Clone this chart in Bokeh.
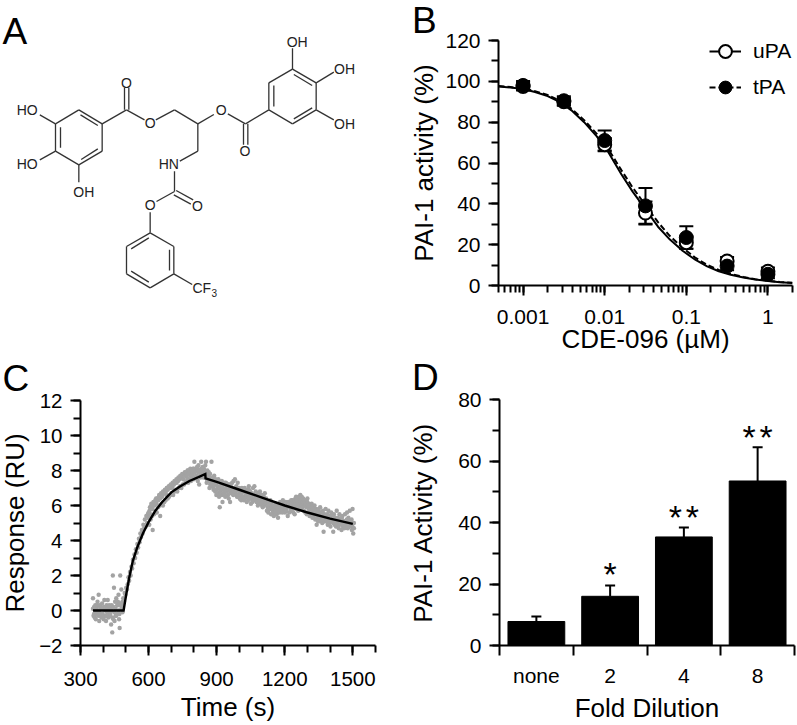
import numpy as np
from bokeh.core.properties import value
from bokeh.embed import file_html
from bokeh.models import (CustomJSTickFormatter, FixedTicker, Legend, Title,
                          LegendItem, LogTicker, Range1d, SingleIntervalTicker)
from bokeh.plotting import figure
from bokeh.resources import INLINE

FONT = "Liberation Sans"

# ---------- panel A: structure (drawing units, 3 per page pixel) ----------
bond_x0 = [235, 305, 305, 235, 165, 165, 240, 292, 180, 165, 165, 235, 305, 372, 385, 378, 466, 522, 592, 682, 729, 742, 735,
           805, 805, 876, 947, 947, 876, 820, 880, 880, 876, 947, 947, 592, 592, 522, 527, 520, 522, 449,
           449, 520, 520, 449, 378, 378, 507, 392, 392, 520]
bond_y0 = [328, 370, 452, 493, 452, 370, 343, 445, 380, 370, 452, 493, 370, 328, 328, 328, 358, 328, 370, 340, 370, 370, 370,
           328, 247, 206, 247, 328, 370, 255, 222, 355, 206, 247, 328, 370, 452, 512, 570, 583, 573, 635,
           697, 738, 820, 862, 820, 738, 748, 812, 745, 820]
bond_x1 = [305, 305, 235, 165, 165, 235, 292, 242, 180, 118, 118, 235, 378, 372, 385, 432, 522, 592, 640, 735, 729, 742, 805,
           805, 876, 947, 947, 876, 805, 820, 935, 935, 876, 1000, 1000, 592, 538, 522, 578, 571, 468, 449,
           520, 520, 449, 378, 378, 449, 507, 445, 445, 575]
bond_y1 = [370, 452, 493, 452, 370, 328, 375, 477, 442, 343, 478, 545, 328, 262, 262, 358, 328, 370, 342, 370, 433, 433, 328,
           247, 206, 247, 328, 370, 328, 318, 255, 322, 143, 215, 358, 452, 482, 573, 598, 611, 603, 697,
           738, 820, 862, 820, 738, 697, 810, 845, 712, 852]
atom_text = ["HO", "HO", "OH", "O", "O", "O", "O", "OH", "OH", "OH", "HN", "O", "O", "CF"]
atom_x = [80, 80, 250, 378, 449, 662, 733, 890, 1032, 1032, 505, 591, 449, 604]
atom_y = [329, 491, 575, 246, 368, 328, 452, 124, 206, 370, 491, 615, 613, 862]
sub_text = ["3"]
sub_x = [641]
sub_y = [876]

# ---------- panel B ----------
conc = [0.001, 0.00316, 0.01, 0.0316, 0.1, 0.316, 1]
upa_mean = [97.5, 90, 69, 35.5, 21, 12, 7]
upa_err = [2, 2, 3.2, 5.6, 3, 2, 1.8]
tpa_mean = [98, 90.5, 71, 39, 23.5, 9.5, 5.5]
tpa_err = [2.2, 2.2, 4.9, 8.8, 5.5, 2, 2]
curve_x = [0.0005, 0.0007, 0.001, 0.0014, 0.002, 0.0028, 0.004, 0.0056, 0.008, 0.011, 0.016, 0.022, 0.032,
           0.045, 0.063, 0.09, 0.13, 0.18, 0.25, 0.35, 0.5, 0.7, 1, 1.4, 2]
upa_curve = [97.5, 97, 96.2, 94.8, 92.8, 89.9, 85.5, 80, 73, 65.5, 54.5, 46, 37,
             28.8, 22.5, 17, 12.5, 9.4, 7, 5.3, 3.9, 2.9, 2.2, 1.6, 1.2]
tpa_curve = [97.7, 97.2, 96.5, 95.2, 93.3, 90.5, 86.3, 81, 74.3, 67, 56.5, 48, 39,
             31, 24.2, 18.5, 13.5, 10.1, 7.6, 5.7, 4.2, 3.1, 2.3, 1.7, 1.3]
series_names = ["uPA", "tPA"]

# ---------- panel C ----------
baseline_resp = [0.7, -0.3, 0.2, -0.4, 0.3, -0.5, 0.1, -0.2, 0.5, -0.1, 0.9, -0.6, 0.3, -0.3, 0.2, -0.4, 0.4, -0.2,
                 0.1, -0.5, 0.6, -0.3, 0.2, -0.6, 0.3, -0.1, 0.6, -0.4, 0.2, -0.3, -0.2, 0.1, -0.8, 0.3, -1.25, 2.0,
                 -0.5, 1.3, -0.6, 0.5, -0.3, 0.7, -0.2, 0.3, 0.5, 0.9, -0.5, -1.0, 2.0, 0.3, 1.2, 0.2, 0.5]
rise_resp = [0.3, 0.7, 0.5, 1.0, 0.9, 1.3, 1.2, 1.5, 1.9, 1.7, 2.2, 2.0, 2.5, 2.4, 2.9, 2.7, 3.2, 3.0, 3.5, 3.3, 3.8,
             3.6, 4.1, 3.9, 4.4, 4.2, 4.6, 4.4, 4.9, 4.7, 5.2, 4.8, 5.4, 5.0, 5.5, 5.3]
approach_resp = [5.6, 4.9, 5.9, 5.2, 6.1, 5.4, 4.6, 6.0, 5.5, 6.2, 5.7, 6.4, 5.6, 6.3, 5.9, 6.5, 6.0, 5.4, 6.5, 6.1,
                 6.6, 6.0, 6.7, 6.2, 6.8, 6.3, 6.6, 7.0, 6.4, 7.0, 6.5, 7.1, 6.6, 7.1, 6.7, 7.0, 6.6, 7.2, 6.8, 7.3,
                 6.9, 7.3, 6.8, 7.4, 7.0, 7.5, 7.1, 7.6, 7.0, 7.6, 7.2, 7.8, 7.2, 7.9, 7.3, 7.7, 7.4, 8.0, 7.3, 7.9,
                 7.5, 8.1, 7.4, 8.0, 7.6, 8.1, 7.5, 8.5, 7.6, 8.1, 7.7, 8.2, 7.4, 8.3, 7.2, 8.0, 7.6, 8.5, 7.8, 8.2,
                 7.6, 8.1, 7.8, 8.3]
decay1_resp = [7.7, 8.5, 7.3, 8.0, 7.5, 7.9, 7.0, 7.8, 7.4, 8.5, 7.3, 7.6, 6.9, 7.7, 7.2, 7.5, 6.6, 7.4, 7.0, 7.5, 6.5,
               5.9, 7.3, 6.9, 7.4, 6.2, 7.2, 6.7, 7.3, 6.5, 7.3, 6.9, 7.2, 6.6]
decay2_resp = [7.2, 6.4, 6.9, 6.2, 7.2, 6.7, 7.3, 6.8, 7.4, 6.9, 7.5, 6.7, 7.1, 6.5, 7.3, 6.6, 7.0, 6.4, 6.9, 6.3, 7.0,
               6.5, 6.9, 6.3, 7.0, 6.5, 6.8, 6.2, 6.9, 6.3, 7.1, 6.4, 6.8, 6.1, 6.7, 6.2, 7.0, 6.4, 7.1, 6.3, 6.8, 6.2,
               6.6, 6.0, 6.7, 6.1, 6.8, 6.2, 6.5, 6.0]
decay3_resp = [6.6, 5.9, 6.5, 6.0, 6.7, 6.1, 6.3, 5.7, 6.2, 5.6, 6.1, 5.8, 6.3, 5.5, 6.0, 5.5, 5.9, 5.4, 6.0, 5.6, 6.1,
               5.5, 5.8, 5.3, 5.9, 5.6, 6.2, 5.7, 6.1, 5.6, 6.3, 5.8, 6.1, 5.6, 6.2, 5.7, 6.0, 5.4, 6.1, 5.6, 6.2, 5.8,
               6.3, 5.7, 6.2, 5.6, 6.0, 5.5, 6.4, 5.8]
decay4_resp = [6.5, 5.8, 6.3, 5.7, 6.5, 5.9, 6.6, 5.8, 6.5, 5.9, 6.4, 5.7, 6.3, 5.6, 6.2, 5.5, 6.4, 5.6, 6.1, 5.4, 6.0,
               5.5, 6.1, 5.3, 5.9, 5.4, 6.0, 5.2, 5.8, 4.9, 5.7, 5.1, 5.6]
decay5_resp = [5.8, 5.1, 5.9, 5.3, 5.6, 5.0, 5.7, 4.5, 5.5, 5.1, 5.8, 5.2, 5.5, 4.9, 5.7, 5.0, 5.4, 4.8, 5.6, 5.1, 5.3,
               4.5, 5.5, 4.9, 5.3, 4.8, 5.7, 5.0, 5.2, 4.7, 5.5, 5.0, 5.2, 4.6, 5.4, 4.8, 5.1, 4.7, 5.5, 5.0, 4.9, 5.6,
               4.7, 5.3, 4.8, 5.7, 4.9, 5.1, 4.6, 5.8, 4.4, 5.0]
# denser mid-band readings of the same trace
mid_baseline = [0.1, -0.2, 0.2, -0.1, 0.3, -0.3, 0.0, 0.2, -0.2, 0.1, -0.4, 0.2, 0.0, -0.3, 0.1, -0.1, 0.3, -0.2, 0.0,
                -0.4, 0.2, -0.1, 0.1, -0.3, 0.3, 0.0, -0.2, 0.4, 0.1, -0.1]
mid_approach = [5.3, 5.7, 5.5, 6.0, 5.8, 6.2, 6.0, 6.3, 6.1, 6.4, 6.3, 6.6, 6.4, 6.7, 6.5, 6.8, 6.7, 6.9, 6.8, 7.0, 6.9,
                7.1, 7.0, 7.2, 7.1, 7.3, 7.2, 7.4, 7.3, 7.5, 7.4, 7.6, 7.5, 7.7, 7.6, 7.8, 7.5, 7.8, 7.7, 7.9, 7.6, 8.0,
                7.8, 7.9, 7.7, 8.0, 7.8, 8.1, 7.9, 8.0, 7.7, 8.1, 7.9, 8.0, 7.8, 8.1, 7.9, 7.7, 8.0, 7.8]
mid_decay_a = [7.6, 7.9, 7.5, 7.7, 7.4, 7.6, 7.2, 7.5, 7.1, 7.4, 7.0, 7.3, 6.8, 7.2, 6.9, 7.1, 6.7, 7.0, 6.8, 7.1, 6.6,
               7.0, 6.7, 6.9, 6.6, 7.0, 6.8, 7.1, 6.9, 7.2, 6.8, 7.1, 6.7, 7.0, 6.6, 6.9, 6.8, 7.0, 6.6, 6.9, 6.5, 6.8,
               6.4, 6.7, 6.6, 6.9, 6.5, 6.8, 6.4, 6.7, 6.5, 6.8, 6.6, 6.9, 6.5, 6.7, 6.4, 6.6, 6.3, 6.6, 6.5, 6.7, 6.4,
               6.6, 6.2, 6.5, 6.3, 6.6, 6.4, 6.2]
mid_decay_b = [6.4, 6.2, 6.5, 6.3, 6.1, 6.4, 6.2, 5.9, 6.2, 6.0, 5.8, 6.1, 5.9, 5.7, 6.0, 5.8, 5.6, 5.9, 5.7, 5.8, 6.0,
               5.7, 5.9, 5.8, 6.0, 5.9, 6.1, 5.9, 6.0, 5.8, 6.1, 5.9, 6.2, 6.0, 5.9, 6.2, 6.0, 6.3, 6.1, 6.0, 6.3, 6.1,
               6.3, 6.0, 6.2, 6.4, 6.1, 6.3, 6.0, 6.2, 6.1, 6.3, 6.0, 6.1, 5.9, 6.2, 6.0, 5.8, 6.0, 5.7, 5.9, 5.6, 5.8,
               5.5, 5.7, 5.5, 5.6, 5.3, 5.6, 5.4]
mid_decay_c = [5.5, 5.3, 5.6, 5.4, 5.2, 5.5, 5.3, 5.1, 5.4, 5.2, 5.4, 5.1, 5.3, 5.0, 5.3, 5.1, 5.4, 5.2, 5.0, 5.3, 5.1,
               4.9, 5.2, 5.0, 5.3, 5.1, 4.9, 5.2, 5.0, 5.3, 4.9, 5.1, 4.8, 5.1, 4.9, 5.2, 5.0, 4.8, 5.1, 4.9, 5.0, 5.2,
               4.8, 5.0, 4.7]
phase_spans = [(355, 485), (485, 600), (600, 850), (850, 950), (950, 1100), (1100, 1250), (1250, 1350), (1350, 1505),
               (355, 485), (600, 850), (850, 1100), (1100, 1350), (1350, 1505)]
phase_values = [baseline_resp, rise_resp, approach_resp, decay1_resp, decay2_resp, decay3_resp, decay4_resp, decay5_resp,
                mid_baseline, mid_approach, mid_decay_a, mid_decay_b, mid_decay_c]
fit_time = [355, 490, 500, 515, 530, 550, 575, 600, 630, 660, 700, 740, 780, 820, 850, 851, 900, 1000, 1100, 1200, 1300,
            1400, 1500]
fit_resp = [0, 0, 0.8, 1.9, 2.8, 3.6, 4.4, 5.05, 5.7, 6.2, 6.75, 7.1, 7.4, 7.62, 7.8, 7.55, 7.35, 6.9, 6.45, 6.0, 5.6,
            5.25, 4.95]

# ---------- panel D ----------
dilution = ["none", "2", "4", "8"]
activity = [7.8, 16, 35.3, 53.5]
activity_top = [9.4, 19.5, 38.4, 64.5]
star_pos = [1.5, 2.385, 2.615, 3.385, 3.615]
star_val = [23.1, 41.7, 41.7, 67.7, 67.7]


def style(p, tick=21):
    for ax in (p.xaxis[0], p.yaxis[0]):
        ax.axis_line_width = 2
        ax.major_tick_line_width = 2
        ax.minor_tick_line_width = 2
        ax.major_tick_in = 0
        ax.minor_tick_in = 0
        ax.major_tick_out = 10
        ax.minor_tick_out = 7
        ax.major_label_text_font = FONT
        ax.major_label_text_font_size = f"{tick}px"
        ax.major_label_text_color = "black"
        ax.axis_label_text_font = FONT
        ax.axis_label_text_font_size = "26px"
        ax.axis_label_text_font_style = "normal"
        ax.axis_label_text_color = "black"
    p.grid.visible = False
    p.outline_line_color = None


def place(p, left, top):
    p.styles = {"position": "absolute", "left": f"{left}px", "top": f"{top}px"}
    p.background_fill_color = None
    p.border_fill_color = None


def letter(p, text, offset, standoff=0):
    p.add_layout(Title(text=text, text_font=FONT, text_font_size="37px", text_font_style="normal",
                       text_color="black", align="left", offset=offset, standoff=standoff, vertical_align="bottom",
                       text_line_height=0.8), "above")


# A
a = figure(width=400, height=360, x_range=Range1d(0, 1200), y_range=Range1d(1080, 0), toolbar_location=None,
           output_backend="svg", min_border=0)
a.axis.visible = False
a.grid.visible = False
a.outline_line_color = None
a.segment(bond_x0, bond_y0, bond_x1, bond_y1, line_color="#333333", line_width=1.3)
a.text(atom_x, atom_y, text=atom_text, text_font=value(FONT), text_font_size="14px", text_align="center",
       text_baseline="middle", text_color="#222222")
a.text(sub_x, sub_y, text=sub_text, text_font=value(FONT), text_font_size="10px", text_align="center",
       text_baseline="middle", text_color="#222222")
a.text([6], [92], text=["A"], text_font=value(FONT), text_font_size="37px", text_align="left",
       text_baseline="alphabetic", text_color="black")
place(a, 0, 0)

# B
b = figure(width=409, height=370, x_axis_type="log", x_range=Range1d(0.0005, 2),
           y_range=Range1d(0, 120), toolbar_location=None, output_backend="svg", min_border_left=110, min_border_right=5,
           min_border_top=50, min_border_bottom=75, x_axis_label="CDE-096 (µM)", y_axis_label="PAI-1 activity (%)")
style(b)
b.xaxis[0].ticker = LogTicker(num_minor_ticks=10)
b.xaxis[0].formatter = CustomJSTickFormatter(code="return String(tick)")
b.yaxis[0].ticker = SingleIntervalTicker(interval=20, num_minor_ticks=2)
b.xaxis[0].major_label_standoff = 14
b.xaxis[0].axis_label_standoff = -3
b.yaxis[0].major_label_standoff = 8
b.yaxis[0].axis_label_standoff = 3

up_l = np.array(upa_mean) - np.array(upa_err)
up_u = np.array(upa_mean) + np.array(upa_err)
tp_l = np.array(tpa_mean) - np.array(tpa_err)
tp_u = np.array(tpa_mean) + np.array(tpa_err)
solid = b.line(curve_x, upa_curve, line_color="black", line_width=2)
dashed = b.line(curve_x, tpa_curve, line_color="black", line_width=2, line_dash="6 3")
for lo, hi in ((up_l, up_u), (tp_l, tp_u)):
    b.segment(conc, lo, conc, hi, line_color="black", line_width=2)
    b.scatter(conc, lo, marker="dash", size=14, line_color="black", line_width=2)
    b.scatter(conc, hi, marker="dash", size=14, line_color="black", line_width=2)
open_pts = b.scatter(conc, upa_mean, marker="circle", size=13, fill_color="white", line_color="black", line_width=2)
full_pts = b.scatter(conc, tpa_mean, marker="circle", size=14, fill_color="black", line_color="black", line_width=1)
legend = Legend(items=[LegendItem(label=series_names[0], renderers=[solid, open_pts]),
                       LegendItem(label=series_names[1], renderers=[dashed, full_pts])],
                location=(211, 180), border_line_color=None, background_fill_alpha=0, glyph_width=32, glyph_height=36,
                spacing=0, label_standoff=12, padding=0, margin=0, label_text_font=FONT, label_text_font_size="21px",
                label_text_color="black", label_height=36)
b.add_layout(legend)
letter(b, "B", -86.5)
place(b, 388, -10)

# C
c = figure(width=417, height=375, x_range=Range1d(300, 1600), y_range=Range1d(-2, 12),
           toolbar_location=None, output_backend="svg", min_border_left=100, min_border_right=22, min_border_top=50,
           min_border_bottom=80, x_axis_label="Time (s)", y_axis_label="Response (RU)")
style(c, tick=20.5)
c.xaxis[0].ticker = SingleIntervalTicker(interval=300, num_minor_ticks=3)
c.yaxis[0].ticker = SingleIntervalTicker(interval=2, num_minor_ticks=2)
c.xaxis[0].major_label_standoff = 16
c.xaxis[0].axis_label_standoff = 3
c.yaxis[0].major_label_standoff = 8
c.yaxis[0].axis_label_standoff = 6
for (t0, t1), vals in zip(phase_spans, phase_values):
    c.scatter(np.linspace(t0, t1, len(vals)), vals, marker="circle", size=4.4, fill_color="#a3a3a3", line_color=None)
c.line(fit_time, fit_resp, line_color="black", line_width=2.4, line_join="miter")
letter(c, "C", -78, 3)
place(c, -20, 350)

# D
d = figure(width=408, height=376, x_range=Range1d(0, 4), y_range=Range1d(0, 80),
           toolbar_location=None, output_backend="svg", min_border_left=110, min_border_right=3, min_border_top=50,
           min_border_bottom=80, x_axis_label="Fold Dilution", y_axis_label="PAI-1 Activity (%)")
style(d)
centers = [i + 0.5 for i in range(len(dilution))]
d.xaxis[0].ticker = FixedTicker(ticks=centers, minor_ticks=list(range(len(dilution) + 1)))
d.xaxis[0].major_label_overrides = {x: s for x, s in zip(centers, dilution)}
d.xaxis[0].major_tick_out = 0
d.xaxis[0].minor_tick_out = 10
d.yaxis[0].ticker = SingleIntervalTicker(interval=20, num_minor_ticks=2)
d.xaxis[0].major_label_standoff = 8
d.xaxis[0].axis_label_standoff = 3
d.yaxis[0].major_label_standoff = 8
d.yaxis[0].axis_label_standoff = 17
d.segment(centers, activity, centers, activity_top, line_color="black", line_width=2)
d.scatter(centers, activity_top, marker="dash", size=10, line_color="black", line_width=2)
d.vbar(x=centers, top=activity, bottom=0, width=0.77, fill_color="black", line_color="black")
d.text(star_pos, star_val, text=["*"] * len(star_pos), text_font=value(FONT), text_font_size="34px",
       text_align="center", text_baseline="middle", text_color="black")
letter(d, "D", -87.5, 4)
place(d, 389, 349)

open("out.html", "w").write(file_html([a, b, c, d], INLINE))
